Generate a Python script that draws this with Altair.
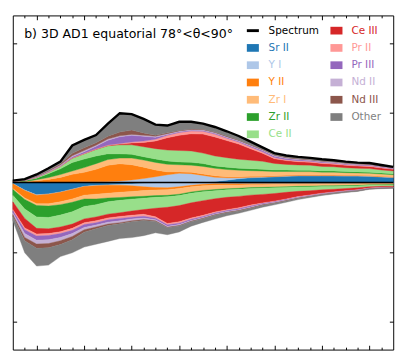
import altair as alt
import pandas as pd

# ---------------- data ----------------
wavelength = list(range(3500, 11501, 250))

ions = ["Sr II", "Y I", "Y II", "Zr I", "Zr II", "Ce II", "Ce III",
        "Pr II", "Pr III", "Nd II", "Nd III", "Other"]
colors = ["#1f77b4", "#aec7e8", "#ff7f0e", "#ffbb78", "#2ca02c", "#98df8a",
          "#d62728", "#ff9896", "#9467bd", "#c5b0d5", "#8c564b", "#7f7f7f"]

spectrum = [2, 3.5, 8.5, 15, 22, 39, 45, 50, 62, 73, 72, 67, 61, 60, 64, 64, 62,
            58.5, 54, 49, 43, 37, 31, 28.5, 27, 26, 24.5, 23.5, 22, 21, 20.5, 18.5, 16.5]

# emission contributions (positive)
em_sr2 = [0.1, 0.1, 0.1, 0.1, 0.1, 0.2, 0.2, 0.2, 0.2, 0.2, 0.2, 0.2, 0.2, 0.2, 0.2, 0.3, 0.5,
          1, 2.5, 4, 5, 5.5, 6, 6.5, 7, 7, 7, 7, 6.8, 6.8, 6.5, 5.8, 5.3]
em_y1 = [0.1, 0.1, 0.2, 0.2, 0.3, 0.4, 0.5, 0.7, 1, 1.5, 2.5, 4, 6, 8, 9.5, 9, 7, 4.5, 2.5, 1,
         0.5, 0.3, 0.3, 0.3, 0.3, 0.3, 0.3, 0.3, 0.3, 0.3, 0.3, 0.3, 0.3]
em_y2 = [0.2, 0.5, 1.5, 3, 5, 8, 10, 13, 17, 18, 16, 12, 7, 3, 1.5, 1.5, 1.5, 1.5, 1.2, 1,
         1, 0.8, 0.8, 0.8, 0.7, 0.7, 0.6, 0.6, 0.5, 0.5, 0.5, 0.5, 0.4]
em_zr1 = [0.2, 0.5, 1.2, 2, 3, 3.5, 5, 6, 6, 6, 7, 7.5, 8, 8, 7.5, 7.5, 8, 8, 7.5, 7,
          6, 5.5, 4.5, 4, 3.5, 3.5, 3, 3, 2.8, 2.5, 2.5, 2.4, 2.2]
em_zr2 = [0.3, 0.6, 1.5, 4, 6, 9, 9, 8, 6, 4.5, 4, 3.5, 3.5, 3.5, 3, 3, 3, 2.5, 2.5, 2,
          2, 1.8, 1.5, 1.5, 1.5, 1.3, 1.3, 1.2, 1.2, 1.1, 1.1, 1, 1]
em_ce2 = [0.2, 0.3, 0.8, 1.5, 2.5, 4.5, 5.5, 7, 8.5, 9.5, 10, 10.5, 11, 11.5, 12, 12, 11, 10.5,
          10, 9.5, 9, 8.5, 7, 6, 5.5, 5.5, 4.8, 4.5, 4, 3.8, 3.8, 3.3, 3]
em_ce3 = [0.1, 0.1, 0.1, 0.1, 0.1, 0.2, 0.2, 0.2, 0.3, 0.8, 2, 4.5, 8, 13, 16, 18, 20, 20, 18,
          16, 12, 8.5, 5, 4, 3.5, 3, 3, 2.7, 2.5, 2.4, 2.3, 2, 1.8]
em_pr2 = [0.1, 0.1, 0.2, 0.2, 0.3, 0.4, 0.5, 0.5, 0.6, 0.7, 1, 1.5, 2, 2.5, 3, 3, 3, 3, 2.5,
          2.2, 2, 1.5, 1.2, 1, 1, 1, 0.9, 0.9, 0.8, 0.8, 0.8, 0.7, 0.6]
em_pr3 = [0.1, 0.1, 0.3, 0.3, 0.4, 1, 1.5, 2.5, 5, 7, 7, 5, 2, 1, 0.8, 0.8, 0.8, 0.8, 0.8,
          0.8, 1, 1.2, 1.5, 1.2, 1, 0.8, 0.8, 0.7, 0.7, 0.6, 0.6, 0.5, 0.5]
em_nd2 = [0.1, 0.1, 0.4, 0.5, 0.8, 1, 1.2, 1.2, 1.2, 1, 1, 1, 1, 0.8, 0.8, 0.8, 0.8, 0.8, 0.8,
          0.8, 0.8, 0.8, 0.8, 0.7, 0.7, 0.7, 0.6, 0.6, 0.6, 0.6, 0.6, 0.5, 0.5]
em_nd3 = [0.1, 0.1, 0.5, 0.8, 1.2, 2.5, 3, 2.5, 3, 4, 4.5, 2.5, 1, 0.8, 0.6, 0.6, 0.6, 0.6, 0.6,
          0.6, 0.6, 0.6, 0.6, 0.5, 0.5, 0.5, 0.5, 0.5, 0.4, 0.4, 0.4, 0.4, 0.4]
em_other = [0.4, 0.9, 1.7, 2.3, 2.3, 8.3, 8.4, 8.2, 13.2, 19.8, 16.8, 14.8, 11.3, 7.7, 9.1, 7.5,
            5.8, 5.3, 5.1, 4.1, 3.1, 2, 1.8, 2, 1.8, 1.7, 1.7, 1.5, 1.4, 1.2, 1.1, 1.1, 0.5]

# absorption contributions (negative)
ab_sr2 = [-1, -8, -13, -12, -10, -7, -4, -3, -2.5, -2, -1.5, -1, -0.8, -0.5, -0.5, -0.5, -0.6,
          -0.7, -0.8, -1, -1, -1, -1, -1, -1, -1, -1, -1, -1, -1, -0.8, -0.8, -0.8]
ab_y1 = [-0.3, -0.3, -0.3, -0.3, -0.3, -0.3, -0.3, -0.3, -0.3, -0.8, -2, -3.5, -4.5, -5, -4,
         -2.5, -1.2, -0.7, -0.4, -0.4, -0.3, -0.3, -0.3, -0.3, -0.3, -0.3, -0.3, -0.3, -0.3,
         -0.3, -0.2, -0.2, -0.2]
ab_y2 = [-5, -8, -9, -10, -10, -10, -9, -9, -8.5, -7.5, -6, -4, -2.5, -2, -1.8, -1.5, -1.5,
         -1.5, -1.3, -1.2, -1, -1, -0.9, -0.8, -0.7, -0.7, -0.6, -0.6, -0.6, -0.5, -0.4, -0.4, -0.4]
ab_zr1 = [-1, -1.5, -2, -2.5, -3, -3.5, -4, -5, -5, -5.5, -5.5, -6, -6, -6, -6, -5.5, -5, -4.5,
          -4, -3.5, -3, -2.8, -2.5, -2.3, -2, -1.8, -1.6, -1.5, -1.3, -1.2, -1, -0.9, -0.8]
ab_zr2 = [-6, -10, -12, -12, -11, -10, -8, -6, -4, -3, -2.5, -2, -1.8, -1.6, -1.5, -1.4, -1.3,
          -1.2, -1.1, -1, -1, -0.9, -0.9, -0.9, -0.8, -0.8, -0.7, -0.7, -0.6, -0.6, -0.5, -0.4, -0.4]
ab_ce2 = [-7, -10, -12, -12, -12.5, -13, -13, -13, -13, -13, -12.5, -12, -11.5, -11, -10.5, -10,
          -9.5, -8.5, -8, -7.5, -7, -6.5, -6, -5, -4.5, -4, -3.5, -3, -2.5, -2, -1.5, -1.3, -1.2]
ab_ce3 = [-8, -10, -6, -5, -5, -4.5, -4, -4, -4, -4, -4.5, -5, -9, -17, -17, -16, -15.5, -14,
          -13, -12, -10.5, -9, -8, -7, -5.5, -4.5, -3.5, -2.8, -2.3, -2, -1.4, -1.2, -1]
ab_pr2 = [-1.5, -2, -2, -2, -2, -2, -2, -2, -2, -2, -2, -2, -1.5, -1.5, -1.5, -1.3, -1.2, -1,
          -1, -1, -1, -0.7, -0.7, -0.6, -0.6, -0.5, -0.5, -0.4, -0.4, -0.4, -0.3, -0.3, -0.3]
ab_pr3 = [-2, -4, -4.5, -4.5, -4, -3.5, -3, -2.5, -2.5, -2.5, -2, -2, -1.5, -1.5, -1.5, -1.2,
          -1, -1, -1, -1, -1, -0.6, -0.6, -0.5, -0.5, -0.4, -0.4, -0.3, -0.3, -0.3, -0.2, -0.2, -0.2]
ab_nd2 = [-2, -4, -4, -4, -3.5, -3, -2.5, -2, -2, -2, -1.8, -1.5, -1.2, -1, -1, -0.8, -0.8, -0.8,
          -0.8, -0.8, -0.8, -0.7, -0.6, -0.6, -0.5, -0.5, -0.4, -0.4, -0.3, -0.3, -0.2, -0.2, -0.2]
ab_nd3 = [-1.5, -3.5, -4.5, -4.5, -4, -3.5, -2.5, -2, -1.5, -1.2, -1, -1, -0.8, -0.6, -0.5, -0.5,
          -0.5, -0.5, -0.5, -0.5, -0.5, -0.5, -0.4, -0.4, -0.4, -0.3, -0.3, -0.3, -0.3, -0.2,
          -0.2, -0.2, -0.2]
ab_other = [-4.7, -12.7, -18.7, -18.2, -12.7, -13.7, -15.7, -16.2, -16.7, -15.5, -16.7, -16,
            -11.9, -7.3, -6.2, -4.8, -3.9, -4.1, -3.1, -2.5, -2.2, -2, -1.6, -1.4, -1.2, -1,
            -0.9, -0.8, -0.7, -0.6, -0.5, -0.4, -0.4]

title_text = "b) 3D AD1 equatorial 78°<θ<90°"
x_major = [4000, 5000, 6000, 7000, 8000, 9000, 10000, 11000]
x_minor = [3750, 4250, 4500, 4750, 5250, 5500, 5750, 6250, 6500, 6750, 7250, 7500, 7750,
           8250, 8500, 8750, 9250, 9500, 9750, 10250, 10500, 10750, 11250]
y_ticks = [-146.67, -73.33, 73.33, 146.67]

emission = [em_sr2, em_y1, em_y2, em_zr1, em_zr2, em_ce2, em_ce3, em_pr2, em_pr3, em_nd2, em_nd3, em_other]
absorption = [ab_sr2, ab_y1, ab_y2, ab_zr1, ab_zr2, ab_ce2, ab_ce3, ab_pr2, ab_pr3, ab_nd2, ab_nd3, ab_other]


def long_table(series):
    rows = []
    for rank, (ion, vals) in enumerate(zip(ions, series)):
        for lam, v in zip(wavelength, vals):
            rows.append({"lam": lam, "ion": ion, "rank": rank, "lum": v})
    return pd.DataFrame(rows)


df_em = long_table(emission)
df_ab = long_table(absorption)
df_spec = pd.DataFrame({"lam": wavelength, "lum": spectrum})
df_zero = pd.DataFrame({"lam": [wavelength[0], wavelength[-1]], "lum": [0, 0]})

# ---------------- layout ----------------
W, H = 395, 347
x_scale = alt.Scale(domain=[3500, 11500], nice=False, zero=False)
y_scale = alt.Scale(domain=[-176, 176], nice=False, zero=False)
color_scale = alt.Scale(domain=["Spectrum"] + ions, range=["#000000"] + colors)
FONT = "DejaVu Sans"


def axis(orient, values, size):
    return alt.Axis(orient=orient, values=values, tickSize=size, offset=-size,
                    labels=False, domain=False, grid=False, ticks=True,
                    tickColor="#000000", tickWidth=1)


def area_layer(df, xaxis, yaxis):
    return alt.Chart(df).mark_area(strokeWidth=0.4).encode(
        x=alt.X("lam:Q", scale=x_scale, axis=xaxis, title=None),
        y=alt.Y("lum:Q", stack="zero", scale=y_scale, axis=yaxis, title=None),
        color=alt.Color("ion:N", scale=color_scale, legend=None),
        stroke=alt.Stroke("ion:N", scale=color_scale, legend=None),
        order=alt.Order("rank:Q", sort="ascending"),
    )


pos = area_layer(df_em, axis("bottom", x_major, 4.5), axis("left", y_ticks, 4))
neg = area_layer(df_ab, axis("top", x_major, 4.5), axis("right", y_ticks, 4))

zero = alt.Chart(df_zero).mark_line(color="#000000", strokeWidth=1.5).encode(
    x=alt.X("lam:Q", scale=x_scale, axis=axis("top", x_minor, 2.5), title=None),
    y=alt.Y("lum:Q", scale=y_scale, axis=None),
)
spec = alt.Chart(df_spec).mark_line(color="#000000", strokeWidth=2.5).encode(
    x=alt.X("lam:Q", scale=x_scale, axis=axis("bottom", x_minor, 2.5), title=None),
    y=alt.Y("lum:Q", scale=y_scale, axis=None),
)

# legend (two columns, drawn inside the frame)
labels = ["Spectrum"] + ions
leg = pd.DataFrame({"ion": labels})
leg["col"] = [0] * 7 + [1] * 6
leg["row"] = list(range(7)) + list(range(6))
leg["sx"] = 243 + leg["col"] * 86.8
leg["sx2"] = leg["sx"] + 12.5
leg["tx"] = 265.6 + leg["col"] * 86
leg["cy"] = 15.8 + 17.94 * leg["row"]
leg["y1"] = leg["cy"] - 4
leg["y2"] = leg["cy"] + 4

leg_rect = alt.Chart(leg[leg["ion"] != "Spectrum"]).mark_rect().encode(
    x=alt.X("sx:Q", scale=None, axis=None), x2="sx2:Q",
    y=alt.Y("y1:Q", scale=None, axis=None), y2="y2:Q",
    color=alt.Color("ion:N", scale=color_scale, legend=None),
)
leg_line = alt.Chart(leg[leg["ion"] == "Spectrum"]).mark_rule(color="#000000", strokeWidth=3).encode(
    x=alt.X("sx:Q", scale=None, axis=None), x2="sx2:Q",
    y=alt.Y("cy:Q", scale=None, axis=None),
)
leg_text = alt.Chart(leg).mark_text(align="left", baseline="middle", fontSize=10.8, font=FONT).encode(
    x=alt.X("tx:Q", scale=None, axis=None),
    y=alt.Y("cy:Q", scale=None, axis=None),
    text="ion:N",
    color=alt.Color("ion:N", scale=color_scale, legend=None),
)

title = alt.Chart(pd.DataFrame({"t": [title_text]})).mark_text(
    align="left", baseline="alphabetic", fontSize=13, font=FONT, color="#000000"
).encode(x=alt.value(11.8), y=alt.value(23.4), text="t:N")

chart = alt.layer(pos, neg, zero, spec, leg_rect, leg_line, leg_text, title).resolve_axis(
    x="independent", y="independent"
).properties(
    width=W, height=H, padding={"left": 0, "top": 0, "right": 1, "bottom": 1}
).configure_view(stroke="#000000", strokeWidth=1)

chart.save("out.html", embed_options={"renderer": "svg", "actions": False})
